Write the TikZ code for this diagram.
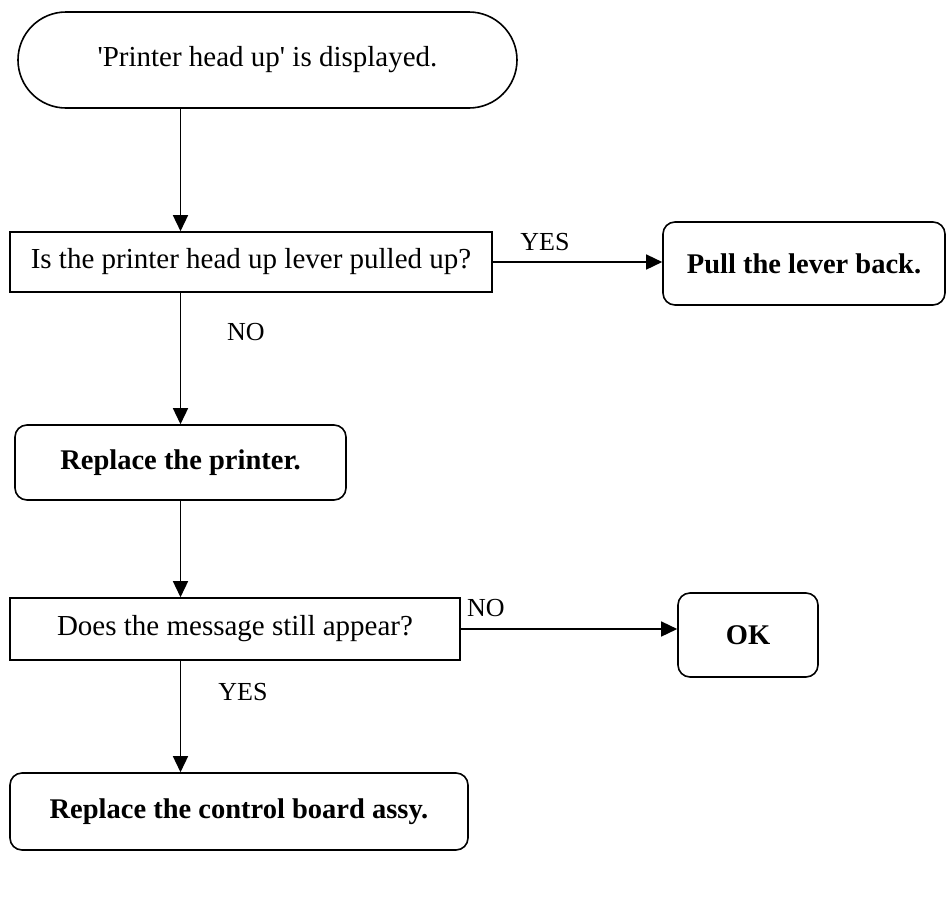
\documentclass[tikz,border=0pt]{standalone}
\usepackage{fontspec}
\setmainfont{Liberation Serif}
\usetikzlibrary{arrows.meta}
\begin{document}
\begin{tikzpicture}[x=1pt,y=-1pt,
  txt/.style={font=\fontsize{29}{33}\selectfont},
  basebox/.style={draw, line width=1.6pt, inner sep=0pt, txt},
  term/.style={basebox, rounded corners=48pt},
  decision/.style={basebox},
  action/.style={basebox, rounded corners=12pt, font=\fontsize{28.5}{32}\selectfont\bfseries},
  arr/.style={line width=1.5pt, -{Triangle[length=16pt,width=15pt]}},
  lbl/.style={font=\fontsize{26}{30}\selectfont, inner sep=0pt}
]
\useasboundingbox (0,0) rectangle (946,906);

% boxes
\node[term, minimum width=499pt, minimum height=96pt] (start) at (267.5,60)
  {\textquotesingle Printer head up\textquotesingle{} is displayed.};
\node[decision, minimum width=482pt, minimum height=60pt] (d1) at (251,262)
  {Is the printer head up lever pulled up?};
\node[action, minimum width=282pt, minimum height=83pt] (pull) at (804,263.5)
  {Pull the lever back.};
\node[action, minimum width=331pt, minimum height=75pt] (rp) at (180.5,462.5)
  {Replace the printer.};
\node[decision, minimum width=450pt, minimum height=62pt] (d2) at (235,629)
  {Does the message still appear?};
\node[action, minimum width=140pt, minimum height=84pt] (ok) at (748,635)
  {OK};
\node[action, minimum width=458pt, minimum height=77pt] (cb) at (239,811.5)
  {Replace the control board assy.};

% connectors
\draw[arr] (start.south -| rp) -- (d1.north -| rp);
\draw[arr] (d1.east) -- (d1.east -| pull.west);
\draw[arr] (d1.south -| rp) -- (rp.north);
\draw[arr] (rp.south) -- (d2.north -| rp);
\draw[arr] (d2.east) -- (d2.east -| ok.west);
\draw[arr] (d2.south -| rp) -- (cb.north -| rp);

% branch labels
\node[lbl] (yes1) at (545,242) {YES};
\node[lbl] (no1) at (246,332) {NO};
\node[lbl] (no2) at (486,608) {NO};
\node[lbl] (yes2) at (243,692) {YES};
\end{tikzpicture}
\end{document}
